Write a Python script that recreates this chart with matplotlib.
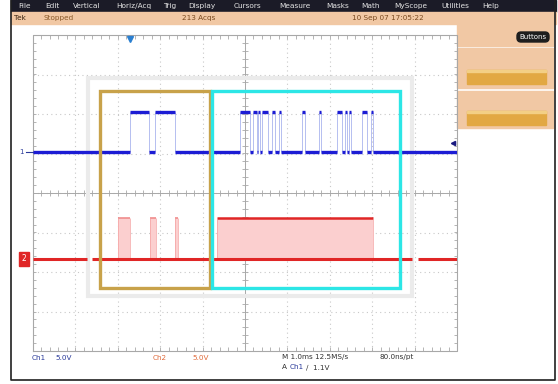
import matplotlib.pyplot as plt
import matplotlib.patches as patches
import numpy as np

# screen size and graticule position in pixels (left, top, right, bottom)
W, H = 558, 384
GL, GT, GR, GB = 33, 35, 457, 351

menu_items = ["File", "Edit", "Vertical", "Horiz/Acq", "Trig", "Display", "Cursors",
              "Measure", "Masks", "Math", "MyScope", "Utilities", "Help"]
menu_x = [18, 45, 73, 116, 163, 188, 234, 279, 326, 361, 394, 441, 482]

# channel traces: time in ms (1 ms/div), levels in divisions
ch1_low, ch1_high = 1.03, 2.05
ch1_pulses = [(2.29, 2.74), (2.88, 3.35), (4.88, 5.12), (5.20, 5.28), (5.31, 5.35),
              (5.39, 5.55), (5.64, 5.70), (5.80, 5.86), (6.35, 6.41), (6.74, 6.80),
              (7.16, 7.28), (7.36, 7.40), (7.45, 7.51), (7.75, 7.87), (7.96, 8.02)]
ch2_low, ch2_high = -1.67, -0.63
ch2_pulses = [(2.00, 2.29), (2.76, 2.90), (3.35, 3.42), (4.34, 8.02)]
ch2_gaps = [(1.27, 1.39), (8.94, 9.08)]
t_trig = 2.29

# highlight boxes (ms, div)
gray_box = (1.30, -2.61, 8.94, 2.91)
gold_box = (1.58, -2.41, 4.17, 2.58)
cyan_box = (4.22, -2.41, 8.66, 2.58)

BLUE = "#1c1cd4"
LBLUE = "#aab4ee"
RED = "#e02626"
PINK = "#fbcfcf"
PEACH = "#f1c8a4"


def low_parts(holes, t0=0.0, t1=10.0):
    parts, cur = [], t0
    for a, b in sorted(holes):
        if a > cur:
            parts.append((cur, a))
        cur = max(cur, b)
    if cur < t1:
        parts.append((cur, t1))
    return parts


fig = plt.figure(figsize=(W / 100, H / 100), dpi=100)

# ---- screen chrome
bg = fig.add_axes([0, 0, 1, 1])
bg.set_xlim(0, W)
bg.set_ylim(H, 0)
bg.axis("off")

bg.add_patch(patches.Rectangle((11, 0), 545, 12, color="#1b1b27", zorder=1))
for name, x in zip(menu_items, menu_x):
    bg.text(x, 6, name, color="#e4e4e4", fontsize=5.3, va="center", ha="left", zorder=2)

bg.add_patch(patches.Rectangle((11, 12), 545, 12, color=PEACH, zorder=1))
bg.text(14, 18, "Tek", color="#3a2410", fontsize=5.2, va="center")
bg.text(43, 18, "Stopped", color="#8a5a2a", fontsize=5.2, va="center")
bg.text(182, 18, "213 Acqs", color="#7a4a20", fontsize=5.2, va="center")
bg.text(352, 18, "10 Sep 07 17:05:22", color="#7a4a20", fontsize=5.2, va="center")

# right side button panel
bg.add_patch(patches.Rectangle((457, 24), 96, 22, color=PEACH, zorder=1))
bg.add_patch(patches.Rectangle((457, 48), 96, 40, color=PEACH, zorder=1))
bg.add_patch(patches.Rectangle((457, 91), 96, 37, color=PEACH, zorder=1))
bg.add_patch(patches.FancyBboxPatch((517, 32), 32, 10, boxstyle="round,pad=0,rounding_size=4",
                                    color="#1e1e1e", zorder=2))
bg.text(533, 37, "Buttons", color="white", fontsize=5, ha="center", va="center", zorder=3)
for y in (70, 111):
    bg.add_patch(patches.Rectangle((467, y), 79, 14, color="#e2a843", zorder=2))
    bg.add_patch(patches.Rectangle((467, y), 79, 2, color="#f3cf85", zorder=3))

# outer frame
bg.plot([11, 11, 555, 555], [0, 380, 380, 0], color="#202020", lw=1.2, zorder=4)

# bottom readouts
bg.text(32, 358, "Ch1", color="#2a3a9a", fontsize=5.2, va="center")
bg.text(55, 358, "5.0V", color="#2a3a9a", fontsize=5.2, va="center")
bg.text(153, 358, "Ch2", color="#e06a3a", fontsize=5.2, va="center")
bg.text(192, 358, "5.0V", color="#e06a3a", fontsize=5.2, va="center")
bg.text(282, 357, "M 1.0ms 12.5MS/s", color="#303030", fontsize=5.2, va="center")
bg.text(379, 357, "80.0ns/pt", color="#303030", fontsize=5.2, va="center")
bg.text(282, 367, "A", color="#303030", fontsize=5.2, va="center")
bg.text(290, 367, "Ch1", color="#2a3a9a", fontsize=5.2, va="center")
bg.text(306, 367, "\u2215  1.1V", color="#303030", fontsize=5.2, va="center")

# ---- graticule
ax = fig.add_axes([GL / W, (H - GB) / H, (GR - GL) / W, (GB - GT) / H])
ax.set_xlim(0, 10)
ax.set_ylim(-4, 4)
ax.axis("off")

grid_c = "#c8c8c8"
ax.vlines(np.arange(1, 10), -4, 4, colors=grid_c, lw=0.8, linestyles=(0, (1, 3)), zorder=1)
ax.hlines(np.arange(-3, 4), 0, 10, colors=grid_c, lw=0.8, linestyles=(0, (1, 3)), zorder=1)
ax.plot([0, 10, 10, 0, 0], [-4, -4, 4, 4, -4], color="#a8a8a8", lw=0.8, zorder=1, clip_on=False)
ax.axvline(5, color="#a8a8a8", lw=0.7, zorder=1)
ax.axhline(0, color="#a8a8a8", lw=0.7, zorder=1)
tx = np.arange(0, 10.01, 0.2)
ty = np.arange(-4, 4.01, 0.2)
ax.vlines(tx, -0.08, 0.08, colors="#a8a8a8", lw=0.6, zorder=1)
ax.hlines(ty, 4.93, 5.07, colors="#a8a8a8", lw=0.6, zorder=1)
ax.vlines(tx, -4, -3.9, colors="#a8a8a8", lw=0.6, zorder=1)
ax.vlines(tx, 3.9, 4, colors="#a8a8a8", lw=0.6, zorder=1)
ax.hlines(ty, 0, 0.08, colors="#a8a8a8", lw=0.6, zorder=1)
ax.hlines(ty, 9.92, 10, colors="#a8a8a8", lw=0.6, zorder=1)

# gray framing box under the traces
x0, y0, x1, y1 = gray_box
ax.add_patch(patches.Rectangle((x0, y0), x1 - x0, y1 - y0, fill=False, ec="#ebebeb",
                               lw=3.0, zorder=2, clip_on=False))

# Ch2 trace
for a, b in ch2_pulses:
    ax.fill_between([a, b], ch2_low, ch2_high, color=PINK, lw=0, zorder=3)
    wide = b - a > 1
    ax.hlines(ch2_high, a, b, colors=RED if wide else "#f08c8c", lw=1.8 if wide else 1.2, zorder=4)
    ax.vlines([a, b], ch2_low, ch2_high, colors="#f4a0a0", lw=0.5, zorder=4)
for a, b in low_parts(ch2_gaps):
    ax.hlines(ch2_low, a, b, colors=RED, lw=2.2, zorder=5)

# Ch1 trace
for a, b in ch1_pulses:
    ax.vlines([a, b], ch1_low, ch1_high, colors=LBLUE, lw=0.6, zorder=4)
    ax.hlines(ch1_high, a, b, colors=BLUE, lw=2.4, zorder=5)
for a, b in low_parts(ch1_pulses):
    ax.hlines(ch1_low, a, b, colors=BLUE, lw=2.4, zorder=5)

# trigger position marker
ax.plot(t_trig, 3.9, marker="v", color="#2a7fd0", ms=4, zorder=6, clip_on=False)

# channel markers on the left / right
ax.text(-0.27, ch1_low, "1", color="#2a3a9a", fontsize=5, va="center", ha="center",
        clip_on=False)
ax.plot([-0.17, 0.0], [ch1_low, ch1_low], color="#2a3a9a", lw=0.8, clip_on=False)
ax.text(-0.22, ch2_low, "2", color="white", fontsize=5.5, va="center", ha="center",
        bbox=dict(boxstyle="square,pad=0.35", fc=RED, ec=RED), zorder=7, clip_on=False)
ax.plot(9.9, 1.27, marker="<", color="#1a1a80", ms=3, zorder=6, clip_on=False)

# highlight boxes on top
for (x0, y0, x1, y1), c in ((gold_box, "#c8a24a"), (cyan_box, "#2ce6e6")):
    ax.add_patch(patches.Rectangle((x0, y0), x1 - x0, y1 - y0, fill=False, ec=c,
                                   lw=2.4, zorder=8, clip_on=False))

fig.savefig("out.png", dpi=100)
